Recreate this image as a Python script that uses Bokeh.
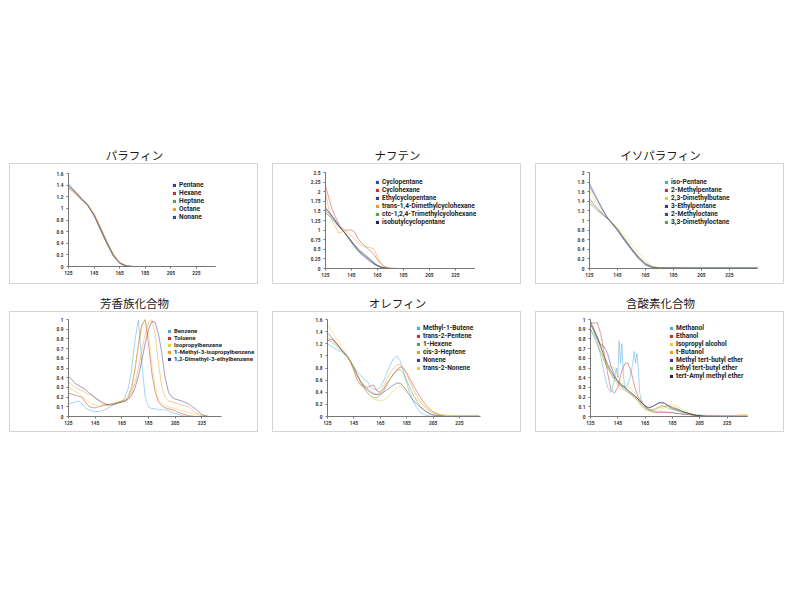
from bokeh.plotting import figure
from bokeh.models import FixedTicker, Legend, LegendItem, Range1d, Div, Spacer
from bokeh.layouts import column, row
from bokeh.embed import file_html
from bokeh.resources import INLINE

# ---------------- colours ----------------
PURPLE = "#4a3290"
RED = "#c8332e"
GREEN = "#5aa63c"
ORANGE = "#f39a25"
BLUE = "#2f4ea1"
NAVY = "#26244e"
LBLUE = "#45aadc"
YELLOW = "#ddd236"

# ---------------- data ----------------
titles = ["パラフィン", "ナフテン", "イソパラフィン", "芳香族化合物", "オレフィン", "含酸素化合物"]
x_ticks = [125, 145, 165, 185, 205, 225]

yticks_paraffin = [0, 0.2, 0.4, 0.6, 0.8, 1, 1.2, 1.4, 1.6]
yticks_naphthene = [0, 0.25, 0.5, 0.75, 1, 1.25, 1.5, 1.75, 2, 2.25, 2.5]
yticks_isoparaffin = [0, 0.2, 0.4, 0.6, 0.8, 1, 1.2, 1.4, 1.6, 1.8, 2]
yticks_aromatic = [0, 0.1, 0.2, 0.3, 0.4, 0.5, 0.6, 0.7, 0.8, 0.9, 1]
yticks_olefin = [0, 0.2, 0.4, 0.6, 0.8, 1, 1.2, 1.4, 1.6]
yticks_oxygenate = [0, 0.1, 0.2, 0.3, 0.4, 0.5, 0.6, 0.7, 0.8, 0.9, 1]

# --- paraffins
wl_paraffin = [125, 130, 135, 140, 145, 150, 155, 160, 165, 170, 175, 180, 200, 220, 240]
pentane = [1.40, 1.28, 1.17, 1.06, 0.88, 0.64, 0.40, 0.19, 0.06, 0.01, 0, 0, 0, 0, 0]
hexane = [1.36, 1.27, 1.16, 1.05, 0.89, 0.66, 0.42, 0.21, 0.07, 0.01, 0, 0, 0, 0, 0]
heptane = [1.38, 1.29, 1.18, 1.07, 0.90, 0.67, 0.43, 0.20, 0.06, 0.01, 0, 0, 0, 0, 0]
octane = [1.34, 1.25, 1.14, 1.05, 0.91, 0.68, 0.44, 0.22, 0.07, 0.02, 0, 0, 0, 0, 0]
nonane = [1.42, 1.30, 1.17, 1.05, 0.87, 0.63, 0.39, 0.18, 0.05, 0.01, 0, 0, 0, 0, 0]
names_paraffin = ["Pentane", "Hexane", "Heptane", "Octane", "Nonane"]
colors_paraffin = [PURPLE, RED, GREEN, ORANGE, BLUE]

# --- naphthenes
wl_naphthene = [125, 127.5, 130, 132.5, 135, 137.5, 140, 142.5, 145, 147.5,
                150, 152.5, 155, 157.5, 160, 162.5, 165, 167.5, 170, 172.5,
                175, 180, 200, 220, 240]
cyclopentane = [1.45, 1.38, 1.30, 1.20, 1.10, 1.02, 0.92, 0.80, 0.68, 0.56,
                0.46, 0.37, 0.30, 0.23, 0.17, 0.11, 0.07, 0.04, 0.02, 0.01,
                0, 0, 0, 0, 0]
cyclohexane = [2.15, 1.85, 1.55, 1.35, 1.18, 1.05, 1.00, 1.00, 1.00, 0.95,
               0.78, 0.68, 0.60, 0.52, 0.44, 0.36, 0.24, 0.13, 0.06, 0.02,
               0.01, 0, 0, 0, 0]
ethylcyclopentane = [1.58, 1.48, 1.36, 1.24, 1.12, 1.02, 0.93, 0.82, 0.71, 0.60,
                     0.50, 0.42, 0.35, 0.28, 0.21, 0.14, 0.08, 0.04, 0.02, 0.01,
                     0, 0, 0, 0, 0]
trans_dmch = [1.98, 1.55, 1.25, 1.10, 0.92, 0.95, 0.98, 0.92, 0.85, 0.76,
              0.68, 0.62, 0.57, 0.55, 0.54, 0.50, 0.30, 0.14, 0.05, 0.02,
              0.01, 0, 0, 0, 0]
ctc_tmch = [1.50, 1.42, 1.32, 1.22, 1.11, 1.01, 0.92, 0.82, 0.72, 0.62,
            0.53, 0.45, 0.38, 0.31, 0.24, 0.16, 0.09, 0.05, 0.02, 0.01,
            0, 0, 0, 0, 0]
isobutylcp = [1.55, 1.47, 1.38, 1.26, 1.13, 1.02, 0.92, 0.81, 0.69, 0.58,
              0.48, 0.40, 0.33, 0.26, 0.19, 0.12, 0.07, 0.03, 0.01, 0,
              0, 0, 0, 0, 0]
names_naphthene = ["Cyclopentane", "Cyclohexane", "Ethylcyclopentane",
                   "trans-1,4-Dimethylcyclohexane", "ctc-1,2,4-Trimethylcyclohexane",
                   "isobutylcyclopentane"]
colors_naphthene = [BLUE, RED, PURPLE, ORANGE, GREEN, NAVY]

# --- isoparaffins
wl_isoparaffin = [125, 127.5, 130, 132.5, 135, 137.5, 140, 142.5, 145, 150,
                  155, 160, 165, 170, 175, 180, 190, 200, 210, 220,
                  230, 240, 245]
iso_pentane = [1.40, 1.32, 1.25, 1.18, 1.11, 1.05, 0.98, 0.90, 0.82, 0.62,
               0.42, 0.24, 0.10, 0.03, 0.01, 0.01, 0.01, 0.01, 0.01, 0.01,
               0.01, 0.01, 0.01]
methylpentane = [1.45, 1.36, 1.28, 1.20, 1.12, 1.05, 0.98, 0.90, 0.81, 0.61,
                 0.42, 0.25, 0.11, 0.03, 0.01, 0.01, 0.01, 0.005, 0.005, 0.005,
                 0.005, 0.005, 0.005]
dimethylbutane = [1.62, 1.50, 1.38, 1.27, 1.17, 1.07, 0.99, 0.92, 0.85, 0.68,
                  0.50, 0.33, 0.16, 0.05, 0.02, 0.01, 0.01, 0.01, 0.01, 0.01,
                  0.01, 0.01, 0.01]
ethylpentane = [1.72, 1.58, 1.45, 1.32, 1.19, 1.07, 0.97, 0.88, 0.79, 0.59,
                0.40, 0.22, 0.08, 0.02, 0.01, 0.01, 0.005, 0.005, 0.005, 0.005,
                0.005, 0.005, 0.005]
methyloctane = [1.78, 1.63, 1.48, 1.34, 1.20, 1.08, 0.98, 0.89, 0.80, 0.58,
                0.38, 0.20, 0.07, 0.02, 0.01, 0.01, 0.01, 0.01, 0.01, 0.01,
                0.01, 0.01, 0.01]
dimethyloctane = [1.35, 1.29, 1.22, 1.16, 1.10, 1.04, 0.98, 0.90, 0.82, 0.62,
                  0.42, 0.23, 0.09, 0.03, 0.01, 0.01, 0.01, 0.01, 0.01, 0.01,
                  0.01, 0.01, 0.01]
names_isoparaffin = ["iso-Pentane", "2-Methylpentane", "2,3-Dimethylbutane",
                     "3-Ethylpentane", "2-Methyloctane", "3,3-Dimethyloctane"]
colors_isoparaffin = [LBLUE, RED, YELLOW, PURPLE, BLUE, GREEN]

# --- shared fine wavelength grid (aromatics, olefins, oxygenates)
wl_fine = [125, 127.5, 130, 132.5, 135,
           137.5, 140, 142.5, 145, 147.5,
           150, 152.5, 155, 157.5, 160,
           162.5, 165, 167.5, 170, 172.5,
           175, 177.5, 180, 182.5, 185,
           187.5, 190, 192.5, 195, 197.5,
           200, 202.5, 205, 207.5, 210,
           215, 220, 225, 230, 240]

# --- aromatics
benzene = [0.13, 0.14, 0.15, 0.16, 0.13,
           0.09, 0.07, 0.06, 0.05, 0.05,
           0.06, 0.07, 0.09, 0.11, 0.13,
           0.15, 0.16, 0.20, 0.30, 0.50,
           0.80, 1.00, 0.55, 0.20, 0.10,
           0.08, 0.08, 0.07, 0.07, 0.07,
           0.06, 0.04, 0.03, 0.02, 0.01,
           0, 0, 0, 0, 0]
toluene = [0.24, 0.23, 0.22, 0.21, 0.20,
           0.15, 0.11, 0.09, 0.09, 0.10,
           0.11, 0.12, 0.12, 0.13, 0.13,
           0.14, 0.15, 0.16, 0.20, 0.30,
           0.50, 0.75, 0.95, 1.00, 0.75,
           0.45, 0.25, 0.15, 0.11, 0.09,
           0.08, 0.07, 0.06, 0.04, 0.03,
           0.01, 0, 0, 0, 0]
isopropylbenzene = [0.30, 0.28, 0.26, 0.24, 0.21,
                    0.18, 0.15, 0.13, 0.12, 0.11,
                    0.11, 0.11, 0.12, 0.13, 0.14,
                    0.15, 0.16, 0.18, 0.22, 0.32,
                    0.50, 0.72, 0.92, 1.00, 0.85,
                    0.55, 0.30, 0.18, 0.13, 0.11,
                    0.10, 0.09, 0.08, 0.07, 0.06,
                    0.04, 0.02, 0.005, 0, 0]
methyl_isopropylbenzene = [0.35, 0.33, 0.30, 0.28, 0.27,
                           0.25, 0.23, 0.22, 0.20, 0.16,
                           0.13, 0.12, 0.12, 0.13, 0.14,
                           0.15, 0.16, 0.17, 0.19, 0.25,
                           0.35, 0.50, 0.68, 0.85, 0.97,
                           1.00, 0.85, 0.55, 0.30, 0.20,
                           0.16, 0.15, 0.14, 0.13, 0.12,
                           0.10, 0.04, 0.01, 0, 0]
dimethyl_ethylbenzene = [0.41, 0.38, 0.34, 0.32, 0.30,
                         0.28, 0.25, 0.22, 0.19, 0.17,
                         0.15, 0.13, 0.12, 0.12, 0.13,
                         0.14, 0.15, 0.16, 0.18, 0.22,
                         0.30, 0.42, 0.58, 0.75, 0.90,
                         0.98, 0.97, 0.85, 0.65, 0.40,
                         0.25, 0.20, 0.18, 0.17, 0.16,
                         0.13, 0.08, 0.02, 0, 0]
names_aromatic = ["Benzene", "Toluene", "Isopropylbenzene",
                  "1-Methyl-3-isopropylbenzene", "1,2-Dimethyl-3-ethylbenzene"]
colors_aromatic = [LBLUE, RED, YELLOW, ORANGE, PURPLE]

# --- olefins
methyl_butene = [1.20, 1.16, 1.13, 1.10, 1.07,
                 1.03, 0.98, 0.90, 0.82, 0.74,
                 0.68, 0.62, 0.58, 0.50, 0.45,
                 0.44, 0.48, 0.58, 0.72, 0.85,
                 0.95, 1.00, 0.92, 0.75, 0.55,
                 0.38, 0.25, 0.15, 0.08, 0.04,
                 0.02, 0.01, 0, 0, 0,
                 0, 0, 0, 0, 0]
trans_pentene = [1.25, 1.27, 1.26, 1.20, 1.12,
                 1.05, 1.00, 0.90, 0.75, 0.60,
                 0.52, 0.50, 0.48, 0.50, 0.52,
                 0.42, 0.40, 0.45, 0.55, 0.62,
                 0.70, 0.76, 0.82, 0.80, 0.72,
                 0.62, 0.52, 0.42, 0.33, 0.25,
                 0.18, 0.12, 0.08, 0.05, 0.03,
                 0.01, 0.01, 0.01, 0.01, 0.01]
hexene = [1.26, 1.24, 1.20, 1.15, 1.10,
          1.05, 1.00, 0.92, 0.82, 0.70,
          0.58, 0.48, 0.40, 0.34, 0.31,
          0.31, 0.35, 0.42, 0.52, 0.62,
          0.70, 0.76, 0.78, 0.72, 0.60,
          0.47, 0.36, 0.26, 0.18, 0.12,
          0.07, 0.04, 0.02, 0.01, 0.01,
          0, 0, 0, 0, 0]
cis_heptene = [1.30, 1.28, 1.24, 1.18, 1.12,
               1.06, 1.00, 0.90, 0.78, 0.66,
               0.58, 0.52, 0.46, 0.42, 0.38,
               0.36, 0.40, 0.50, 0.62, 0.72,
               0.80, 0.85, 0.86, 0.80, 0.70,
               0.57, 0.45, 0.35, 0.26, 0.19,
               0.13, 0.09, 0.06, 0.04, 0.02,
               0.01, 0.01, 0.01, 0.01, 0.01]
nonene = [1.38, 1.32, 1.25, 1.18, 1.11,
          1.05, 0.99, 0.90, 0.80, 0.68,
          0.58, 0.50, 0.44, 0.40, 0.37,
          0.36, 0.37, 0.40, 0.44, 0.48,
          0.52, 0.55, 0.55, 0.50, 0.42,
          0.34, 0.27, 0.21, 0.16, 0.12,
          0.08, 0.05, 0.03, 0.02, 0.01,
          0, 0, 0, 0, 0]
trans_nonene = [1.50, 1.43, 1.35, 1.27, 1.18,
                1.08, 1.00, 0.90, 0.78, 0.66,
                0.55, 0.46, 0.39, 0.33, 0.29,
                0.27, 0.26, 0.27, 0.30, 0.36,
                0.42, 0.47, 0.50, 0.48, 0.44,
                0.39, 0.34, 0.29, 0.24, 0.19,
                0.15, 0.11, 0.08, 0.06, 0.04,
                0.02, 0.01, 0, 0, 0]
names_olefin = ["Methyl-1-Butene", "trans-2-Pentene", "1-Hexene",
                "cis-3-Heptene", "Nonene", "trans-2-Nonene"]
colors_olefin = [LBLUE, RED, GREEN, ORANGE, PURPLE, YELLOW]

# --- oxygenates
wl_methanol = [125, 127.5, 130, 132.5, 135, 137.5, 140, 142, 144, 145,
               146, 147, 148, 149, 150, 152, 154, 156, 157, 158,
               159, 160, 161, 162, 165, 170, 175, 180, 190, 200,
               210, 220, 230, 240]
methanol = [0.90, 0.85, 0.78, 0.62, 0.45, 0.30, 0.25, 0.35, 0.50, 0.40,
            0.78, 0.55, 0.75, 0.45, 0.30, 0.32, 0.40, 0.55, 0.67, 0.55,
            0.65, 0.50, 0.25, 0.18, 0.10, 0.06, 0.05, 0.05, 0.03, 0.02,
            0.01, 0.005, 0.005, 0.005]
ethanol = [0.97, 0.96, 0.97, 0.85, 0.65,
           0.45, 0.28, 0.24, 0.30, 0.45,
           0.54, 0.55, 0.45, 0.30, 0.20,
           0.15, 0.10, 0.07, 0.05, 0.04,
           0.04, 0.04, 0.04, 0.04, 0.04,
           0.03, 0.03, 0.02, 0.02, 0.02,
           0.01, 0.01, 0.01, 0.01, 0.01,
           0.01, 0.005, 0.005, 0.005, 0.005]
isopropanol = [0.95, 0.88, 0.80, 0.70, 0.58,
               0.50, 0.52, 0.50, 0.42, 0.35,
               0.31, 0.30, 0.28, 0.24, 0.18,
               0.12, 0.08, 0.06, 0.05, 0.05,
               0.06, 0.08, 0.10, 0.12, 0.12,
               0.11, 0.09, 0.07, 0.05, 0.03,
               0.02, 0.01, 0.01, 0.01, 0.01,
               0.01, 0.01, 0.01, 0.01, 0.01]
t_butanol = [0.96, 0.90, 0.82, 0.72, 0.62,
             0.52, 0.44, 0.38, 0.33, 0.29,
             0.27, 0.25, 0.23, 0.20, 0.15,
             0.10, 0.07, 0.06, 0.06, 0.07,
             0.09, 0.10, 0.11, 0.11, 0.10,
             0.09, 0.07, 0.05, 0.04, 0.03,
             0.02, 0.01, 0.01, 0.01, 0.01,
             0.01, 0.01, 0.01, 0.01, 0.02]
mtbe = [0.95, 0.88, 0.80, 0.74, 0.72,
        0.65, 0.52, 0.42, 0.36, 0.32,
        0.30, 0.27, 0.24, 0.21, 0.18,
        0.14, 0.11, 0.09, 0.10, 0.12,
        0.14, 0.15, 0.13, 0.10, 0.08,
        0.07, 0.06, 0.05, 0.04, 0.03,
        0.02, 0.01, 0.01, 0.005, 0,
        0, 0, 0, 0, 0]
etbe = [0.90, 0.82, 0.74, 0.66, 0.58,
        0.50, 0.44, 0.39, 0.35, 0.31,
        0.28, 0.25, 0.22, 0.19, 0.16,
        0.12, 0.09, 0.07, 0.07, 0.08,
        0.10, 0.11, 0.10, 0.08, 0.07,
        0.06, 0.05, 0.04, 0.03, 0.02,
        0.02, 0.01, 0.01, 0, 0,
        0, 0, 0, 0, 0]
tame = [0.98, 0.90, 0.82, 0.72, 0.62,
        0.54, 0.47, 0.41, 0.37, 0.33,
        0.30, 0.27, 0.24, 0.21, 0.18,
        0.14, 0.11, 0.09, 0.10, 0.12,
        0.14, 0.14, 0.13, 0.11, 0.09,
        0.08, 0.07, 0.05, 0.04, 0.03,
        0.02, 0.01, 0.01, 0, 0,
        0, 0, 0, 0, 0]
names_oxygenate = ["Methanol", "Ethanol", "Isopropyl alcohol", "t-Butanol",
                   "Methyl tert-butyl ether", "Ethyl tert-butyl ether",
                   "tert-Amyl methyl ether"]
colors_oxygenate = [LBLUE, RED, YELLOW, ORANGE, PURPLE, GREEN, NAVY]

# ---------------- drawing ----------------
FIG_W, FIG_H = 249, 121
BOX_GAP = 12
FRAME_RIGHT = 2
TICK_FONT = "Roboto"
LEG_FONT = "Roboto"
NAN = float("nan")


def panel(title, xs_list, ys_list, names, colors, y_ticks, x_axis_end, y_end,
          borders, leg_left, leg_top, leg_size):
    left, axis_right, top, bottom = borders
    # the axis line stops at x_axis_end; the frame continues to the box edge so
    # that the legend is not clipped
    axis_px = FIG_W - left - axis_right
    full_px = FIG_W - left - FRAME_RIGHT
    x_range_end = 125 + full_px * (x_axis_end - 125) / axis_px
    p = figure(width=FIG_W, height=FIG_H, output_backend="svg", toolbar_location=None,
               x_range=Range1d(125, x_range_end), y_range=Range1d(0, y_end),
               min_border_left=left, min_border_right=FRAME_RIGHT,
               min_border_top=top, min_border_bottom=bottom,
               background_fill_color="white", border_fill_color="white",
               outline_line_color=None,
               styles={"border": "1px solid #d4d4d4"})
    p.xgrid.visible = False
    p.ygrid.visible = False
    p.xaxis.ticker = FixedTicker(ticks=x_ticks)
    p.yaxis.ticker = FixedTicker(ticks=y_ticks)
    p.xaxis.bounds = (125, x_axis_end)
    p.xaxis.major_label_overrides = {t: str(t) for t in x_ticks}
    p.yaxis.major_label_overrides = {t: f"{t:g}" for t in y_ticks}
    for ax in (p.xaxis, p.yaxis):
        ax.axis_line_color = "#777777"
        ax.axis_line_width = 1
        ax.major_tick_line_color = "#777777"
        ax.major_tick_out = 2
        ax.major_tick_in = 0
        ax.minor_tick_line_color = None
        ax.major_label_text_font = TICK_FONT
        ax.major_label_text_font_size = "4.8px"
        ax.major_label_text_font_style = "bold"
        ax.major_label_text_color = "#333333"
    p.yaxis.major_label_standoff = 3
    p.xaxis.major_label_standoff = 2

    for xs, ys, c in zip(xs_list, ys_list, colors):
        p.line(xs, ys, line_color=c, line_width=0.9, line_alpha=0.55)

    items = []
    for n, c in zip(names, colors):
        r = p.rect(x=[NAN], y=[NAN], width=1, height=1, fill_color=c, line_color=None)
        items.append(LegendItem(label=n, renderers=[r]))
    frame_h = FIG_H - top - bottom
    item_h = leg_size * 1.17
    leg_h = item_h * len(names)
    vy = frame_h - leg_top - leg_h
    legend = Legend(items=items, location=(leg_left, vy),
                    glyph_width=4, glyph_height=4, label_height=4, label_width=10,
                    label_standoff=3, spacing=0, padding=0, margin=0,
                    border_line_color=None, background_fill_alpha=0,
                    label_text_font=LEG_FONT, label_text_font_style="bold",
                    label_text_font_size=f"{leg_size}px", label_text_color="#1e1e1e")
    p.add_layout(legend)

    head = Div(text=title, width=FIG_W + 2, height=16, margin=0,
               styles={"text-align": "center", "font-family": "'Noto Sans CJK JP'",
                       "font-size": "11.5px", "line-height": "16px", "color": "#1a1a1a"})
    return column(head, p, spacing=0)


c1 = panel(titles[0], [wl_paraffin] * 5, [pentane, hexane, heptane, octane, nonane],
           names_paraffin, colors_paraffin, yticks_paraffin, 240, 1.6,
           (58, 44, 9, 19), 104, 9, 6.6)
c2 = panel(titles[1], [wl_naphthene] * 6,
           [cyclopentane, cyclohexane, ethylcyclopentane, trans_dmch, ctc_tmch, isobutylcp],
           names_naphthene, colors_naphthene, yticks_naphthene, 239, 2.5,
           (52, 49, 8, 17), 50, 7.5, 6.6)
c3 = panel(titles[2], [wl_isoparaffin] * 6,
           [iso_pentane, methylpentane, dimethylbutane, ethylpentane, methyloctane, dimethyloctane],
           names_isoparaffin, colors_isoparaffin, yticks_isoparaffin, 245, 2,
           (53, 28, 8, 17), 75, 7.5, 6.6)
c4 = panel(titles[3], [wl_fine] * 5,
           [benzene, toluene, isopropylbenzene, methyl_isopropylbenzene, dimethyl_ethylbenzene],
           names_aromatic, colors_aromatic, yticks_aromatic, 239, 1,
           (58, 39, 7, 17), 99, 8, 6.0)
c5 = panel(titles[4], [wl_fine] * 6,
           [methyl_butene, trans_pentene, hexene, cis_heptene, nonene, trans_nonene],
           names_olefin, colors_olefin, yticks_olefin, 241, 1.6,
           (54, 42, 7, 17), 89, 7, 6.6)
c6 = panel(titles[5], [wl_methanol] + [wl_fine] * 6,
           [methanol, ethanol, isopropanol, t_butanol, mtbe, etbe, tame],
           names_oxygenate, colors_oxygenate, yticks_oxygenate, 240, 1,
           (54, 38, 7, 17), 79, 7, 6.6)

page = column(
    Spacer(width=10, height=147),
    row(Spacer(width=9, height=10), row(c1, c2, c3, spacing=BOX_GAP), spacing=0),
    Spacer(width=10, height=11),
    row(Spacer(width=9, height=10), row(c4, c5, c6, spacing=BOX_GAP), spacing=0),
    spacing=0,
)

open("out.html", "w").write(file_html(page, INLINE))
